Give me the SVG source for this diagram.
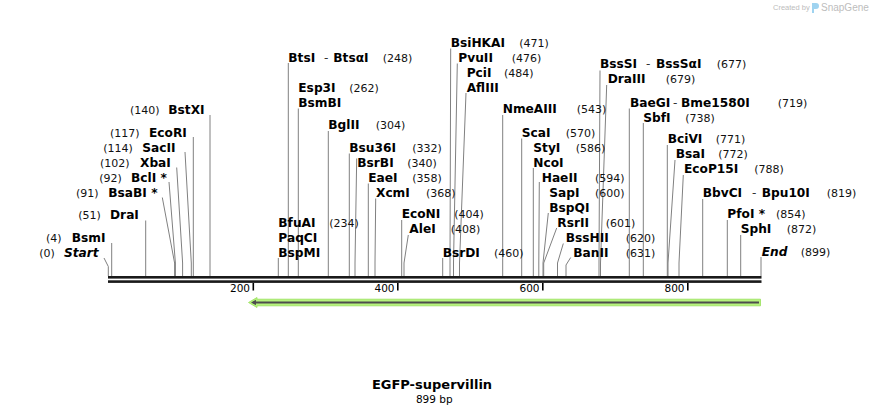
<svg xmlns="http://www.w3.org/2000/svg" width="870" height="415" viewBox="0 0 870 415">
<style>
.n{font-family:"DejaVu Sans",Verdana,sans-serif;font-weight:bold;font-size:12.2px;fill:#000}
.i{font-style:italic}
.h{font-family:"DejaVu Sans",Verdana,sans-serif;font-weight:normal;font-size:12px;fill:#333}
.p{font-family:"DejaVu Sans",Verdana,sans-serif;font-size:11px;fill:#111}
.t{font-family:"DejaVu Sans",Verdana,sans-serif;font-size:10.5px;fill:#000;text-anchor:end}
.c path{fill:none;stroke:#808080;stroke-width:1}
.tk{fill:#000}
.wm{font-family:"Liberation Sans",Arial,sans-serif;fill:#bdbdbd}
</style>
<rect width="870" height="415" fill="#fff"/>
<g id="watermark">
<text class="wm" x="773" y="10" font-size="7.5">Created by</text>
<path d="M812,3 h4 a3,3 0 0 1 0,6 h-2 v4 h-2 z" fill="#9fd3f0"/>
<text class="wm" x="821" y="11" font-size="10">SnapGene</text>
</g>
<g id="connectors" class="c">
<path d="M104,258 L108.3,266.5 V276"/>
<path d="M111.7,243 V276"/>
<path d="M145.7,220.5 V276"/>
<path d="M162.3,197.5 L174.6,263 V276"/>
<path d="M169,182 L175.4,263 V276"/>
<path d="M176.7,167.5 L182.6,263 V276"/>
<path d="M185,152 L191.3,263 V276"/>
<path d="M193.3,137 V276"/>
<path d="M210,115 V276"/>
<path d="M288.3,63 V276"/>
<path d="M298.3,108.5 V276"/>
<path d="M328.3,131 V276"/>
<path d="M349.3,153.5 V276"/>
<path d="M356.7,158.5 L355,263 V276"/>
<path d="M368.3,183.5 V276"/>
<path d="M375.7,198.5 L375,263 V276"/>
<path d="M278.3,258 V276"/>
<path d="M401.7,220 V276"/>
<path d="M408.3,235 L404,263 V276"/>
<path d="M450.7,48.5 L450,263 V276"/>
<path d="M457.3,63.5 L453.5,263 V276"/>
<path d="M466,93 L459.5,263 V276"/>
<path d="M442.7,258 V276"/>
<path d="M502.7,115 V276"/>
<path d="M521.7,138.5 V276"/>
<path d="M533.3,168 V276"/>
<path d="M539.3,182 L538.8,263 V276"/>
<path d="M548.3,213 L543,263 V276"/>
<path d="M556.7,228 L543.7,263 V276"/>
<path d="M563.3,243.5 L557.5,263 V276"/>
<path d="M570.7,257.5 L566,265 V276"/>
<path d="M600,70.5 L599,263 V276"/>
<path d="M606.7,85 L600.5,263 V276"/>
<path d="M629.3,108.5 V276"/>
<path d="M643.3,123 V276"/>
<path d="M667.3,145 V276"/>
<path d="M675,160 L668,263 V276"/>
<path d="M683.3,175 L679,263 V276"/>
<path d="M702.7,199 V276"/>
<path d="M727.3,220 V276"/>
<path d="M740.7,235 V276"/>
<path d="M761,257 V276"/>
</g>
<g id="backbone">
<rect x="108" y="276" width="653.5" height="2.6" fill="#1a1a1a"/>
<rect x="108" y="280.3" width="653.5" height="2.6" fill="#1a1a1a"/>
<rect class="tk" x="252.5" y="283" width="1.6" height="7.5"/>
<rect class="tk" x="397" y="283" width="1.6" height="7.5"/>
<rect class="tk" x="542" y="283" width="1.6" height="7.5"/>
<rect class="tk" x="687" y="283" width="1.6" height="7.5"/>
<text class="t" x="250" y="292">200</text>
<text class="t" x="394.5" y="292">400</text>
<text class="t" x="539.5" y="292">600</text>
<text class="t" x="684.5" y="292">800</text>
</g>
<g id="feature">
<path d="M257,299.2 H760.5 V305.8 H257 V307.5 L248.5,302.5 L257,297.5 Z" fill="#b6f27d" stroke="#98e05a" stroke-width="0.8"/>
<path d="M253,302.5 H759" stroke="#4d4d4d" stroke-width="2.2"/>
<path d="M251,302.5 L256,299.8 V305.2 Z" fill="#4d4d4d"/>
</g>
<g id="start"><text class="p" x="39.3" y="256.5">(0)</text><text class="n i" x="64" y="256.5">Start</text></g>
<g id="BsmI"><text class="p" x="46" y="241.7">(4)</text><text class="n" x="71.7" y="241.7">BsmI</text></g>
<g id="DraI"><text class="p" x="78.3" y="219.3">(51)</text><text class="n" x="110" y="219.3">DraI</text></g>
<g id="BsaBI"><text class="p" x="76" y="196.7">(91)</text><text class="n" x="108.3" y="196.7">BsaBI *</text></g>
<g id="BclI"><text class="p" x="99.3" y="181.7">(92)</text><text class="n" x="131" y="181.7">BclI *</text></g>
<g id="XbaI"><text class="p" x="100" y="166.5">(102)</text><text class="n" x="140" y="166.5">XbaI</text></g>
<g id="SacII"><text class="p" x="103.3" y="151.7">(114)</text><text class="n" x="142.3" y="151.7">SacII</text></g>
<g id="EcoRI"><text class="p" x="110" y="136.7">(117)</text><text class="n" x="149" y="136.7">EcoRI</text></g>
<g id="BstXI"><text class="p" x="130" y="114">(140)</text><text class="n" x="168.3" y="114">BstXI</text></g>
<g id="BtsI"><text class="n" x="288.3" y="61.7">BtsI</text><text class="h" x="324" y="61.7">-</text><text class="n" x="333.3" y="61.7">BtsαI</text><text class="p" x="382.7" y="61.7">(248)</text></g>
<g id="Esp3I"><text class="n" x="298.3" y="91.7">Esp3I</text><text class="n" x="298.3" y="106.7">BsmBI</text><text class="p" x="349.3" y="91.7">(262)</text></g>
<g id="BglII"><text class="n" x="328.3" y="129.3">BglII</text><text class="p" x="375.7" y="129.3">(304)</text></g>
<g id="Bsu36I"><text class="n" x="349.3" y="151.7">Bsu36I</text><text class="p" x="412.3" y="151.7">(332)</text></g>
<g id="BsrBI"><text class="n" x="357.3" y="166.7">BsrBI</text><text class="p" x="407.3" y="166.7">(340)</text></g>
<g id="EaeI"><text class="n" x="368.3" y="181.7">EaeI</text><text class="p" x="412.3" y="181.7">(358)</text></g>
<g id="XcmI"><text class="n" x="376" y="196.7">XcmI</text><text class="p" x="426" y="196.7">(368)</text></g>
<g id="BfuAI"><text class="n" x="278.3" y="226.7">BfuAI</text><text class="n" x="278.3" y="241.7">PaqCI</text><text class="n" x="278.3" y="256.7">BspMI</text><text class="p" x="329.3" y="226.7">(234)</text></g>
<g id="EcoNI"><text class="n" x="401.7" y="218.3">EcoNI</text><text class="p" x="454.3" y="218.3">(404)</text></g>
<g id="AleI"><text class="n" x="409.3" y="233.3">AleI</text><text class="p" x="450.7" y="233.3">(408)</text></g>
<g id="BsiHKAI"><text class="n" x="450.7" y="46.7">BsiHKAI</text><text class="p" x="519.3" y="46.7">(471)</text></g>
<g id="PvuII"><text class="n" x="458.3" y="61.7">PvuII</text><text class="p" x="511.7" y="61.7">(476)</text></g>
<g id="PciI"><text class="n" x="466.7" y="76.7">PciI</text><text class="n" x="466.7" y="91.7">AflIII</text><text class="p" x="504" y="76.7">(484)</text></g>
<g id="BsrDI"><text class="n" x="442.7" y="256.7">BsrDI</text><text class="p" x="494" y="256.7">(460)</text></g>
<g id="NmeAIII"><text class="n" x="502.7" y="113.3">NmeAIII</text><text class="p" x="576.7" y="113.3">(543)</text></g>
<g id="ScaI"><text class="n" x="521.7" y="136.7">ScaI</text><text class="p" x="565.7" y="136.7">(570)</text></g>
<g id="StyI"><text class="n" x="533.3" y="151.7">StyI</text><text class="n" x="533.3" y="166.7">NcoI</text><text class="p" x="575.7" y="151.7">(586)</text></g>
<g id="HaeII"><text class="n" x="541.7" y="181.7">HaeII</text><text class="p" x="595" y="181.7">(594)</text></g>
<g id="SapI"><text class="n" x="549.3" y="196.7">SapI</text><text class="n" x="549.3" y="211.7">BspQI</text><text class="p" x="595" y="196.7">(600)</text></g>
<g id="RsrII"><text class="n" x="557.3" y="226.7">RsrII</text><text class="p" x="605.7" y="226.7">(601)</text></g>
<g id="BssHII"><text class="n" x="565.7" y="241.7">BssHII</text><text class="p" x="625.7" y="241.7">(620)</text></g>
<g id="BanII"><text class="n" x="573.3" y="256.7">BanII</text><text class="p" x="625.7" y="256.7">(631)</text></g>
<g id="BssSI"><text class="n" x="600" y="68.3">BssSI</text><text class="h" x="646" y="68.3">-</text><text class="n" x="656" y="68.3">BssSαI</text><text class="p" x="716.7" y="68.3">(677)</text></g>
<g id="DraIII"><text class="n" x="607.7" y="83.3">DraIII</text><text class="p" x="665.7" y="83.3">(679)</text></g>
<g id="BaeGI"><text class="n" x="630" y="106.7">BaeGI</text><text class="h" x="673" y="106.7">-</text><text class="n" x="681" y="106.7">Bme1580I</text><text class="p" x="777.7" y="106.7">(719)</text></g>
<g id="SbfI"><text class="n" x="643.3" y="121.7">SbfI</text><text class="p" x="685.3" y="121.7">(738)</text></g>
<g id="BciVI"><text class="n" x="667.7" y="143.3">BciVI</text><text class="p" x="715.7" y="143.3">(771)</text></g>
<g id="BsaI"><text class="n" x="675.7" y="158.3">BsaI</text><text class="p" x="718.3" y="158.3">(772)</text></g>
<g id="EcoP15I"><text class="n" x="684" y="173.3">EcoP15I</text><text class="p" x="754.3" y="173.3">(788)</text></g>
<g id="BbvCI"><text class="n" x="702.7" y="196.7">BbvCI</text><text class="h" x="752" y="196.7">-</text><text class="n" x="761.7" y="196.7">Bpu10I</text><text class="p" x="826.7" y="196.7">(819)</text></g>
<g id="PfoI"><text class="n" x="727.3" y="218.3">PfoI *</text><text class="p" x="776" y="218.3">(854)</text></g>
<g id="SphI"><text class="n" x="740.7" y="233.3">SphI</text><text class="p" x="786.7" y="233.3">(872)</text></g>
<g id="end"><text class="n i" x="761.7" y="256">End</text><text class="p" x="800.7" y="256">(899)</text></g>
<g id="title">
<text x="432" y="389" text-anchor="middle" font-family="DejaVu Sans,Verdana,sans-serif" font-weight="bold" font-size="13px" fill="#000">EGFP-supervillin</text>
<text x="434.3" y="402.5" text-anchor="middle" font-family="DejaVu Sans,Verdana,sans-serif" font-size="10.5px" fill="#000">899 bp</text>
</g>
</svg>
